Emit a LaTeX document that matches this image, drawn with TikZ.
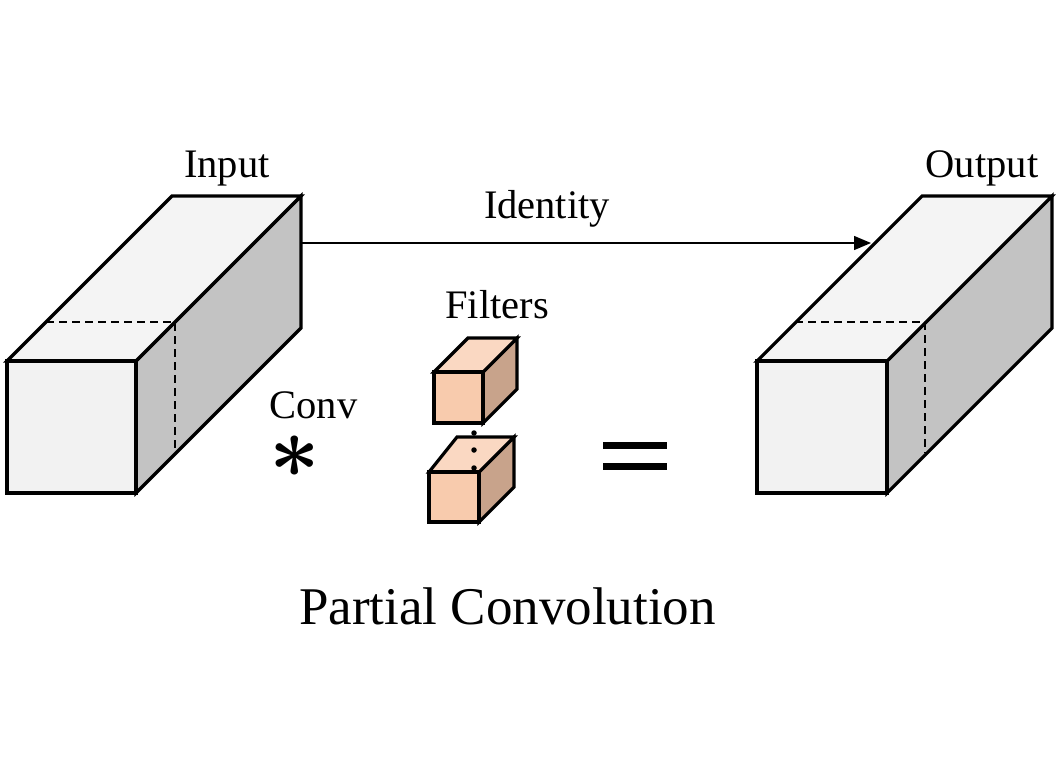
\documentclass[tikz,border=0pt]{standalone}
\usepackage{fontspec}
\setmainfont{Liberation Serif}
\usetikzlibrary{arrows.meta}
\definecolor{greyfront}{HTML}{F2F2F2}
\definecolor{greytop}{HTML}{F4F4F4}
\definecolor{greyside}{HTML}{C3C3C3}
\definecolor{peachfront}{HTML}{F8CBAD}
\definecolor{peachtop}{HTML}{FAD8C2}
\definecolor{peachside}{HTML}{C8A38B}

% Prism seen from the front-left: #1,#2 front top-left corner, #3 width,
% #4 height, #5 depth (drawn at 45 degrees), #6 front, #7 top, #8 side colour
\newcommand\prismfaces[8]{%
  \filldraw[face, fill=#8] (#1+#3,#2) -- ++(#5,-#5) -- ++(0,#4) -- ++(-#5,#5) -- cycle;
  \filldraw[face, fill=#7] (#1,#2) -- ++(#5,-#5) -- ++(#3,0) -- ++(-#5,#5) -- cycle;
  \filldraw[face, fill=#6] (#1,#2) rectangle ++(#3,#4);
}

\begin{document}
\begin{tikzpicture}[x=1pt,y=-1pt,
  face/.style={draw=black, line width=3.2pt, line join=miter},
  hidden/.style={draw=black, line width=2.2pt, dash pattern=on 8pt off 5pt},
  label/.style={font=\fontsize{40.5}{44}\selectfont, inner sep=0pt, anchor=base},
  title/.style={font=\fontsize{53}{58}\selectfont, inner sep=0pt, anchor=base},
  flow/.style={line width=1.4pt, -{Triangle[length=17pt,width=14pt]}},
  dot/.style={circle, fill=black, inner sep=0pt, minimum size=5.5pt}]
\useasboundingbox (0,0) rectangle (1058,780);

% input tensor with its cut plane
\prismfaces{7}{361}{129}{132}{165}{greyfront}{greytop}{greyside}
\draw[hidden] (46,322) -- (175,322) -- (175,453);
\coordinate (inR) at (302,243);

% output tensor with its cut plane
\prismfaces{757}{361}{130}{132}{165}{greyfront}{greytop}{greyside}
\draw[hidden] (795,322) -- (925,322) -- (925,453);
\coordinate (outL) at (871,243);

% identity shortcut
\draw[flow] (inR) -- (outL);

% filters: first cube
\prismfaces{434}{372}{49}{51}{34}{peachfront}{peachtop}{peachside}
% filters: last cube
\filldraw[face, fill=peachside] (479,472) -- (514,437) -- (514,487) -- (479,522) -- cycle;
\filldraw[face, fill=peachtop] (429,472) -- (457,437) -- (514,437) -- (479,472) -- cycle;
\filldraw[face, fill=peachfront] (429,472) rectangle (479,522);
\node[dot] (d1) at (474,433) {};
\node[dot] (d2) at (474,450) {};
\node[dot] (d3) at (474,468) {};

% operators: the convolution star sits on its math axis, about 22pt above the baseline
\node[inner sep=0pt, anchor=base] (conv) at (294.5,477) {\smash{\scalebox{8.8}{\boldmath$\ast$}}};
\fill (603,442) rectangle (667,449);
\fill (603,463) rectangle (667,470);

% labels
\node[label] (lin) at (227,177) {Input};
\node[label] (lout) at (982,177) {Output};
\node[label] (lid) at (547,218) {Identity};
\node[label] (lfil) at (497,318) {Filters};
\node[label] (lconv) at (313.5,418) {Conv};
\node[title] (ltitle) at (507.5,624) {Partial Convolution};
\end{tikzpicture}
\end{document}
